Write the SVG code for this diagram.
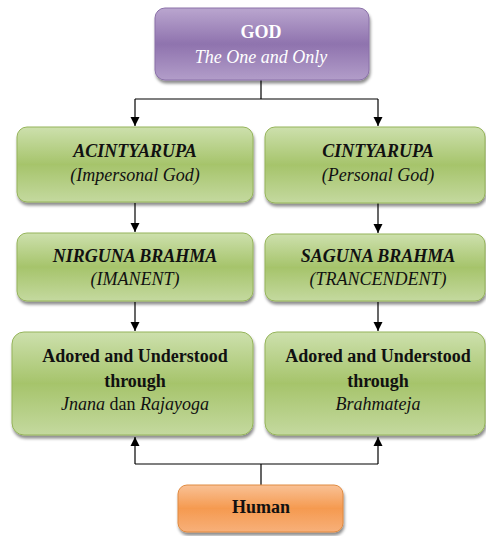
<svg xmlns="http://www.w3.org/2000/svg" width="486" height="536" viewBox="0 0 486 536">
<defs>
<linearGradient id="gGreen" x1="0" y1="0" x2="0" y2="1">
<stop offset="0" stop-color="#cde0ad"/>
<stop offset="0.5" stop-color="#a6c46b"/>
<stop offset="1" stop-color="#c4d99f"/>
</linearGradient>
<linearGradient id="gPurple" x1="0" y1="0" x2="0" y2="1">
<stop offset="0" stop-color="#baa6cf"/>
<stop offset="0.5" stop-color="#8f73ae"/>
<stop offset="1" stop-color="#b29dc9"/>
</linearGradient>
<linearGradient id="gOrange" x1="0" y1="0" x2="0" y2="1">
<stop offset="0" stop-color="#f9c195"/>
<stop offset="0.5" stop-color="#f59a50"/>
<stop offset="1" stop-color="#f7b07a"/>
</linearGradient>
<filter id="sh" x="-10%" y="-10%" width="120%" height="130%">
<feDropShadow dx="1" dy="3" stdDeviation="1.5" flood-color="#000" flood-opacity="0.45"/>
</filter>
<marker id="arr" markerWidth="10" markerHeight="10" refX="9" refY="5" orient="auto" markerUnits="userSpaceOnUse">
<path d="M0,0.5 L9,5 L0,9.5 Z" fill="#000"/>
</marker>
</defs>
<style>
.green{fill:url(#gGreen);stroke:#95b45a;stroke-width:1;filter:url(#sh)}
.purple{fill:url(#gPurple);stroke:#8a70a8;stroke-width:1;filter:url(#sh)}
.orange{fill:url(#gOrange);stroke:#e08a40;stroke-width:1;filter:url(#sh)}
text{font-family:'Liberation Serif',serif;text-anchor:middle;fill:#111;font-size:18px}
.h{font-weight:bold;font-style:italic}
.s{font-style:italic}
.b{font-weight:bold}
.w{fill:#fff}
.c{fill:none;stroke:#000;stroke-width:1.2}
</style>
<g id="connectors">
<path class="c" d="M261,80 V99 M135,99 H378"/>
<path class="c" d="M135,99 V126" marker-end="url(#arr)"/>
<path class="c" d="M378,99 V126" marker-end="url(#arr)"/>
<path class="c" d="M135,203 V232" marker-end="url(#arr)"/>
<path class="c" d="M378,203 V233" marker-end="url(#arr)"/>
<path class="c" d="M135,302 V331" marker-end="url(#arr)"/>
<path class="c" d="M378,302 V331" marker-end="url(#arr)"/>
<path class="c" d="M261,485 V464 M135,464 H378"/>
<path class="c" d="M135,464 V437" marker-end="url(#arr)"/>
<path class="c" d="M378,464 V437" marker-end="url(#arr)"/>
</g>
<g id="god">
<rect class="purple" x="155" y="8" width="214" height="72" rx="10"/>
<text class="b w" x="261" y="38">GOD</text>
<text class="s w" x="261" y="63">The One and Only</text>
</g>
<g id="acintyarupa">
<rect class="green" x="17" y="127" width="236" height="75" rx="10"/>
<text class="h" x="135" y="157">ACINTYARUPA</text>
<text class="s" x="135" y="181">(Impersonal God)</text>
</g>
<g id="cintyarupa">
<rect class="green" x="265" y="127" width="220" height="76" rx="10"/>
<text class="h" x="378" y="157">CINTYARUPA</text>
<text class="s" x="378" y="181">(Personal God)</text>
</g>
<g id="nirguna">
<rect class="green" x="17" y="233" width="236" height="68" rx="10"/>
<text class="h" x="135" y="262">NIRGUNA BRAHMA</text>
<text class="s" x="135" y="285">(IMANENT)</text>
</g>
<g id="saguna">
<rect class="green" x="265" y="234" width="220" height="67" rx="10"/>
<text class="h" x="378" y="262">SAGUNA BRAHMA</text>
<text class="s" x="378" y="285">(TRANCENDENT)</text>
</g>
<g id="adored-left">
<rect class="green" x="12" y="332" width="241" height="103" rx="12"/>
<text class="b" x="135" y="362">Adored and Understood</text>
<text class="b" x="135" y="387">through</text>
<text x="135" y="410"><tspan font-style="italic">Jnana</tspan> dan <tspan font-style="italic">Rajayoga</tspan></text>
</g>
<g id="adored-right">
<rect class="green" x="265" y="332" width="220" height="103" rx="12"/>
<text class="b" x="378" y="362">Adored and Understood</text>
<text class="b" x="378" y="387">through</text>
<text class="s" x="378" y="410">Brahmateja</text>
</g>
<g id="human">
<rect class="orange" x="178" y="485" width="165" height="47" rx="9"/>
<text class="b" x="261" y="513">Human</text>
</g>
</svg>
